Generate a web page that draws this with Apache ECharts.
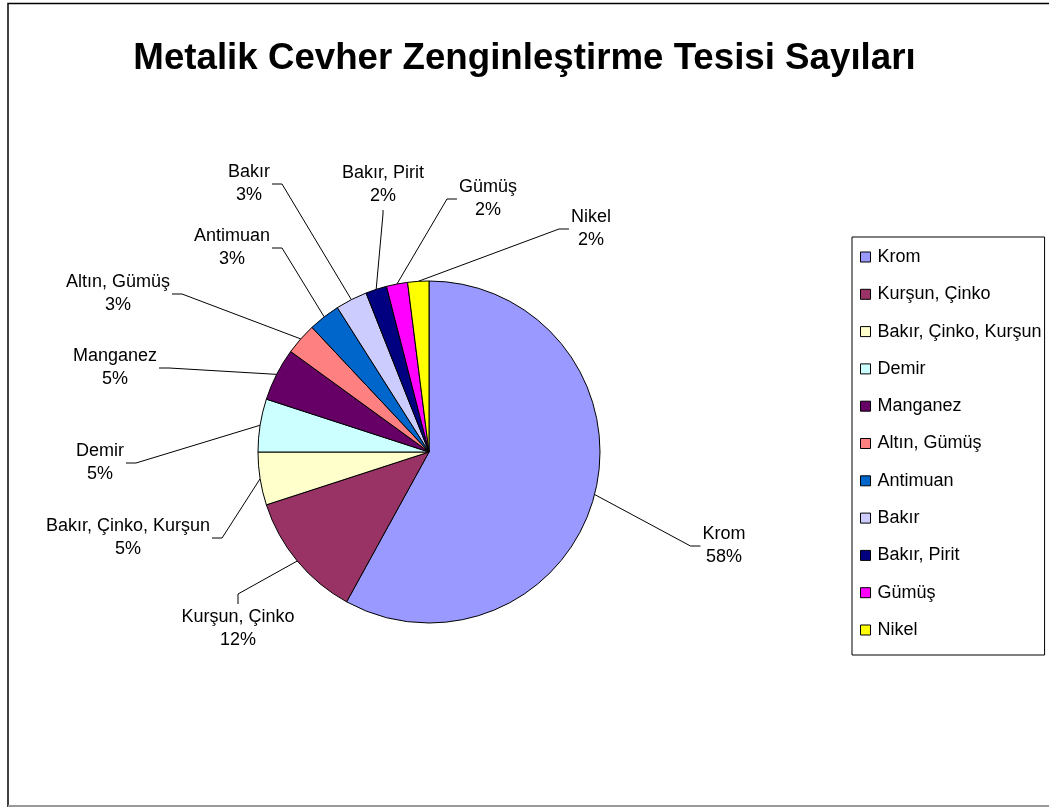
<!DOCTYPE html>
<html>
<head>
<meta charset="utf-8">
<script src="https://cdn.jsdelivr.net/npm/echarts@6/dist/echarts.min.js"></script>
<style>
  html, body { margin: 0; padding: 0; background: #fff; }
  #chart { width: 1049px; height: 807px; }
</style>
</head>
<body>
<div id="chart"></div>
<script>
// Ore types and their share (%) of enrichment plants
const categories = ['Krom', 'Kurşun, Çinko', 'Bakır, Çinko, Kurşun', 'Demir', 'Manganez',
  'Altın, Gümüş', 'Antimuan', 'Bakır', 'Bakır, Pirit', 'Gümüş', 'Nikel'];
const shares = [58, 12, 5, 5, 5, 3, 3, 3, 2, 2, 2];
const sliceColors = ['#9999FF', '#993366', '#FFFFCC', '#CCFFFF', '#660066', '#FF8080',
  '#0066CC', '#CCCCFF', '#000080', '#FF00FF', '#FFFF00'];

// Caption placement for each slice: centre of the two-line block,
// and the side of the block the leader line attaches to
const labelSpots = [[724, 546], [238, 629], [128, 538], [100, 463], [115, 368], [118, 294],
  [232, 248], [249, 184], [383, 185], [488, 199], [591, 229]];
const leaderSides = ['left', 'top', 'right', 'right', 'right', 'right',
  'right', 'right', 'bottom', 'left', 'left'];

const FONT = "'Liberation Sans', Arial, sans-serif";
const PIE_CENTER = [429, 452];
const PIE_RADIUS = 171;
const TAIL = 10;
const GAP = 2;

// fallback anchor on the rim at a slice's mid angle
function rimPoint(index) {
  const total = shares.reduce(function (a, b) { return a + b; }, 0);
  let before = 0;
  for (let i = 0; i < index; i++) before += shares[i];
  const mid = (before + shares[index] / 2) / total * Math.PI * 2;
  return [PIE_CENTER[0] + PIE_RADIUS * Math.sin(mid), PIE_CENTER[1] - PIE_RADIUS * Math.cos(mid)];
}

const chart = echarts.init(document.getElementById('chart'), null, { renderer: 'canvas' });

chart.setOption({
  animation: false,
  backgroundColor: '#fff',
  title: {
    text: 'Metalik Cevher Zenginleştirme Tesisi Sayıları',
    left: 'center',
    top: 40,
    padding: 0,
    textStyle: { fontFamily: FONT, fontSize: 36.7, fontWeight: 'bold', color: '#000' }
  },
  legend: {
    orient: 'vertical',
    left: 852,
    top: 237,
    padding: [11, 3, 16, 8],
    itemGap: 19.3,
    itemWidth: 10,
    itemHeight: 10,
    icon: 'rect',
    borderColor: '#000',
    borderWidth: 1,
    borderRadius: 0,
    itemStyle: { borderColor: '#000', borderWidth: 1 },
    textStyle: { fontFamily: FONT, fontSize: 18, lineHeight: 18, color: '#000', padding: [0, 0, 0, 2] },
    data: categories
  },
  graphic: [
    {
      type: 'polyline',
      silent: true,
      shape: { points: [[8, 807], [8, 3.5], [1049, 3.5]] },
      style: { stroke: '#000', lineWidth: 1.5, fill: null }
    },
    {
      type: 'line',
      silent: true,
      shape: { x1: 8, y1: 806, x2: 1049, y2: 806 },
      style: { stroke: '#999', lineWidth: 2 }
    }
  ],
  series: [{
    type: 'pie',
    center: PIE_CENTER,
    radius: PIE_RADIUS,
    startAngle: 90,
    clockwise: true,
    avoidLabelOverlap: false,
    percentPrecision: 0,
    emphasis: { disabled: true },
    itemStyle: { borderColor: '#000', borderWidth: 1 },
    label: {
      show: true,
      position: 'outside',
      formatter: '{b}\n{d}%',
      fontFamily: FONT,
      fontSize: 18,
      lineHeight: 23,
      color: '#000',
      align: 'center'
    },
    labelLine: {
      show: true,
      length: 20,
      length2: TAIL,
      smooth: false,
      lineStyle: { color: '#000', width: 1 }
    },
    labelLayout: function (params) {
      const i = params.dataIndex;
      const p = labelSpots[i];
      const w = params.labelRect.width;
      const h = params.labelRect.height;
      const x0 = p[0] - w / 2;
      const y0 = p[1] - h / 2;
      const anchor = (params.labelLinePoints && params.labelLinePoints[0]) || rimPoint(i);
      let end, elbow;
      switch (leaderSides[i]) {
        case 'left':
          end = [x0 - GAP, p[1]]; elbow = [end[0] - TAIL, p[1]]; break;
        case 'right':
          end = [x0 + w + GAP, p[1]]; elbow = [end[0] + TAIL, p[1]]; break;
        case 'top':
          end = [p[0], y0 - GAP]; elbow = [p[0], end[1] - TAIL]; break;
        default:
          end = [p[0], y0 + h + GAP]; elbow = [p[0], end[1] + 4]; break;
      }
      return {
        x: p[0], y: p[1], align: 'center', verticalAlign: 'middle',
        labelLinePoints: [[anchor[0], anchor[1]], elbow, end]
      };
    },
    data: categories.map(function (name, i) {
      return { name: name, value: shares[i], itemStyle: { color: sliceColors[i] } };
    })
  }]
});
</script>
</body>
</html>
